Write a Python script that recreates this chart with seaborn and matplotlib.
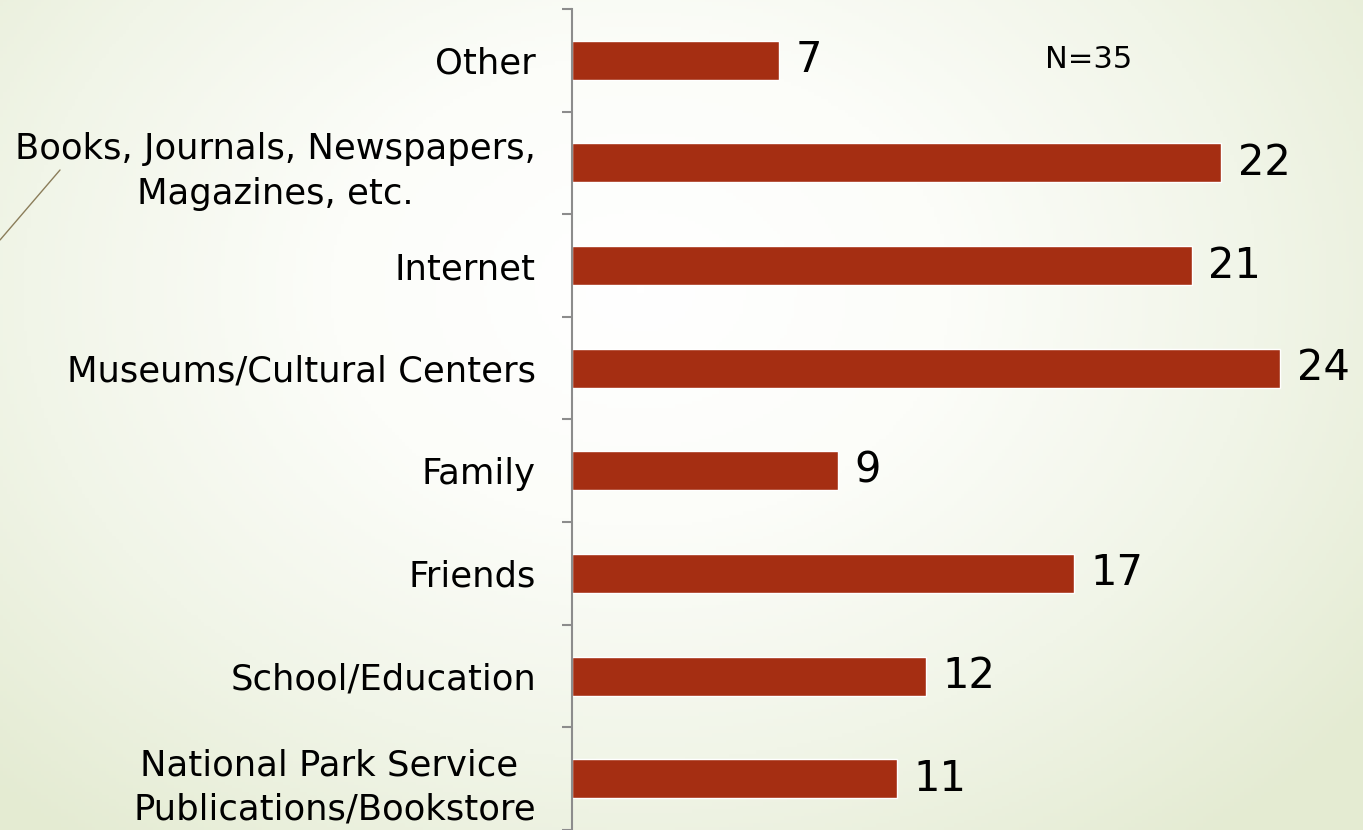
import matplotlib.pyplot as plt
import numpy as np
import pandas as pd
import seaborn as sns
from matplotlib.colors import LinearSegmentedColormap
from matplotlib.lines import Line2D

# data, top to bottom as shown on the slide
SOURCES = [
    "Other",
    "Books, Journals, Newspapers,\nMagazines, etc.",
    "Internet",
    "Museums/Cultural Centers",
    "Family",
    "Friends",
    "School/Education",
    "National Park Service \nPublications/Bookstore",
]
COUNTS = [7, 22, 21, 24, 9, 17, 12, 11]
N_LABEL = "N=35"

BAR_COLOR = "#A52E12"
AXIS_GREY = "#8c8c8c"

sns.set_theme(style="white")
plt.rcParams["font.family"] = ["DejaVu Sans"]
plt.rcParams["text.color"] = "black"

W, H = 1363, 830
fig = plt.figure(figsize=(W / 100, H / 100), dpi=100)

# slide background: white centre fading to pale green at the edges
bg = fig.add_axes([0, 0, 1, 1], zorder=0)
yy, xx = np.mgrid[0:1:240j, 0:1:400j]
dist = np.sqrt(((xx - 0.47) * 1.25) ** 2 + ((yy - 0.35) * 1.0) ** 2)
cmap = LinearSegmentedColormap.from_list(
    "slide", ["#ffffff", "#fcfdf9", "#f1f5e8", "#e4ebd2"]
)
bg.imshow(dist, cmap=cmap, aspect="auto", extent=[0, 1, 0, 1], origin="upper",
          vmin=0.0, vmax=0.85)
bg.set_axis_off()

# decorative slide stroke at the top left
fig.add_artist(Line2D([60 / W, 0], [1 - 170 / H, 1 - 240 / H],
                      color="#8b7d5a", lw=1.0))

ax = fig.add_axes([572 / W, 0 / H, 767 / W, 821 / H], zorder=1)
ax.patch.set_alpha(0)

df = pd.DataFrame({"source": SOURCES, "count": COUNTS})
sns.barplot(data=df, y="source", x="count", color=BAR_COLOR, saturation=1,
            width=0.38, ax=ax)

ax.set_xlim(0, 26)
ax.set_ylim(7.5, -0.5)
ax.set_xticks([])
ax.set_xlabel("")
ax.set_ylabel("")

for side in ("top", "right", "bottom"):
    ax.spines[side].set_visible(False)
ax.spines["left"].set_color(AXIS_GREY)
ax.spines["left"].set_linewidth(1.5)

ax.set_yticks(np.arange(-0.5, 8, 1), minor=True)
ax.tick_params(axis="y", which="major", length=0, pad=26, labelsize=25.5,
               labelcolor="black")
ax.tick_params(axis="y", which="minor", left=True, length=7.5, width=1.5,
               color=AXIS_GREY, direction="out")
for lbl in ax.get_yticklabels():
    lbl.set_multialignment("center")
    lbl.set_linespacing(1.4)

ax.bar_label(ax.containers[0], padding=12, fontsize=30, color="black")

fig.text(1045 / W, 1 - 60 / H, N_LABEL, fontsize=22, va="center", ha="left",
         color="black")

fig.savefig("out.png", dpi=100)
